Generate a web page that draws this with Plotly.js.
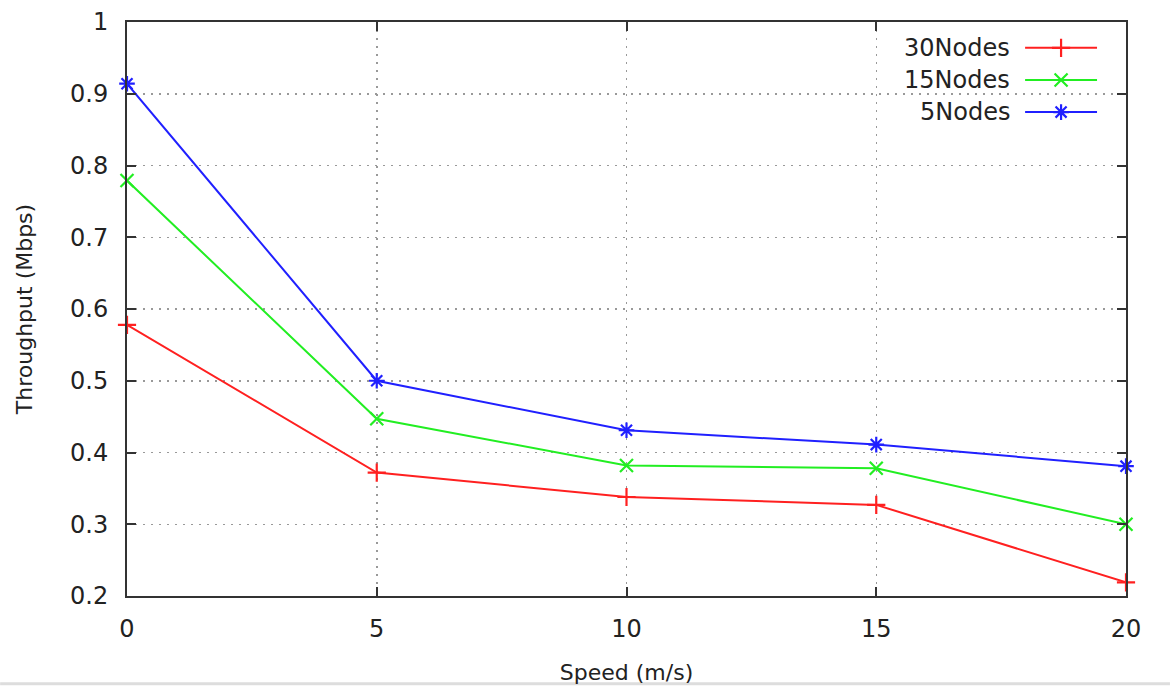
<!DOCTYPE html>
<html>
<head>
<meta charset="utf-8">
<script src="https://cdn.plot.ly/plotly-3.0.1.min.js"></script>
<style>html,body{margin:0;padding:0;background:#fff;}#chart{width:1170px;height:686px;}</style>
</head>
<body>
<div id="chart"></div>
<script>
const speeds = [0, 5, 10, 15, 20];
const nodes30 = [0.578, 0.372, 0.338, 0.327, 0.219];
const nodes15 = [0.779, 0.447, 0.382, 0.378, 0.300];
const nodes5  = [0.914, 0.500, 0.431, 0.411, 0.381];
const seriesNames = ['30Nodes', '15Nodes', '5Nodes'];
const xTicks = [0, 5, 10, 15, 20];
const yTicks = [0.2, 0.3, 0.4, 0.5, 0.6, 0.7, 0.8, 0.9, 1];

const colors = ['#ff2020', '#22ee22', '#2020ff'];
const symbols = ['cross-thin-open', 'x-thin-open', 'asterisk-open'];
const seriesData = [nodes30, nodes15, nodes5];
const FONT = 'DejaVu Sans, sans-serif';

const traces = seriesData.map((ys, i) => ({
  x: speeds, y: ys, name: seriesNames[i], type: 'scatter', mode: 'lines+markers',
  line: {color: colors[i], width: 2},
  marker: {symbol: symbols[i], size: 13, color: colors[i], line: {color: colors[i], width: 2.2}},
  showlegend: false, cliponaxis: false
}));

// custom gnuplot-style legend (text left of sample)
const legRowsY = [0.955, 0.899, 0.843];
const legTextX = 0.886, legL = 0.899, legR = 0.971, legM = 0.935;
traces.push({
  x: seriesNames.map(() => legM), y: legRowsY, xaxis: 'x2', yaxis: 'y2',
  type: 'scatter', mode: 'markers', showlegend: false, hoverinfo: 'skip',
  marker: {symbol: symbols, size: 13, color: colors, line: {color: colors, width: 2.2}}
});
const shapes = seriesNames.map((n, i) => ({
  type: 'line', xref: 'paper', yref: 'paper', x0: legL, x1: legR, y0: legRowsY[i], y1: legRowsY[i],
  line: {color: colors[i], width: 2}
}));
const annotations = seriesNames.map((n, i) => ({
  text: n, xref: 'paper', yref: 'paper', x: legTextX, y: legRowsY[i], xanchor: 'right', yanchor: 'middle',
  showarrow: false, font: {family: FONT, size: 24, color: '#222'}
}));

const axisCommon = {
  showline: true, mirror: 'ticks', linecolor: '#333', linewidth: 2,
  ticks: 'inside', ticklen: 9, tickwidth: 2, tickcolor: '#333',
  showgrid: true, gridcolor: '#999999', griddash: '2px,6px', gridwidth: 1.5,
  zeroline: false, tickfont: {family: FONT, size: 24, color: '#222'}
};

const layout = {
  width: 1170, height: 686,
  margin: {l: 127, r: 44, t: 22, b: 90},
  paper_bgcolor: '#fff', plot_bgcolor: '#fff',
  font: {family: FONT, color: '#222'},
  xaxis: Object.assign({}, axisCommon, {
    range: [0, 20], tickvals: xTicks, ticktext: xTicks.map(String), ticklabelstandoff: 10,
    title: {text: 'Speed (m/s)', font: {family: FONT, size: 22, color: '#222'}, standoff: 23}
  }),
  yaxis: Object.assign({}, axisCommon, {
    range: [0.2, 1], tickvals: yTicks, ticktext: yTicks.map(String), ticklabelstandoff: 12,
    title: {text: 'Throughput (Mbps)', font: {family: FONT, size: 22, color: '#222'}, standoff: 31}
  }),
  xaxis2: {overlaying: 'x', range: [0, 1], visible: false, fixedrange: true},
  yaxis2: {overlaying: 'y', range: [0, 1], visible: false, fixedrange: true},
  shapes: shapes.concat([
    {type: 'line', xref: 'paper', yref: 'paper', x0: -0.127, x1: 1.044, y0: -0.153, y1: -0.153, line: {color: '#dddddd', width: 3}}
  ]),
  annotations: annotations,
  showlegend: false
};

Plotly.newPlot('chart', traces, layout, {displayModeBar: false, staticPlot: true});
</script>
</body>
</html>
